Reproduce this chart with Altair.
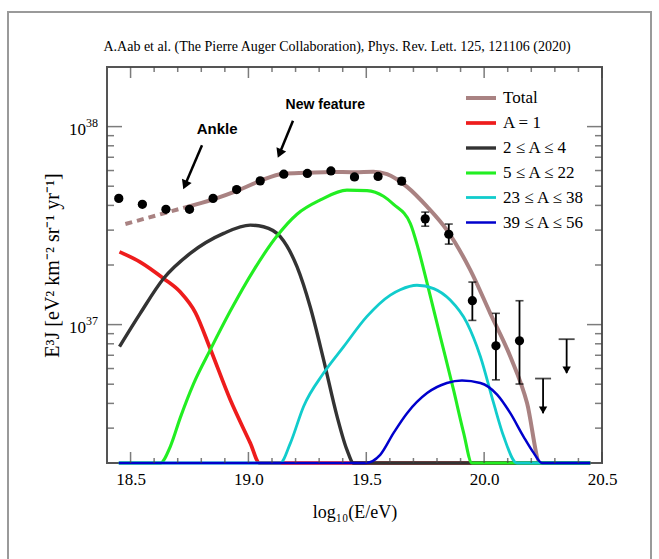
import altair as alt
import pandas as pd

# ---------------- data ----------------
X_DOMAIN = [18.4, 20.5]
Y_DOMAIN = [2e36, 2e38]

# measured flux points (E^3 J)
data_x = [18.45, 18.55, 18.65, 18.75, 18.85, 18.95, 19.05, 19.15, 19.25, 19.35,
          19.45, 19.55, 19.65, 19.75, 19.85, 19.95, 20.05, 20.15]
data_y = [4.34e37, 4.05e37, 3.82e37, 3.82e37, 4.34e37, 4.81e37, 5.32e37, 5.75e37, 5.80e37, 5.97e37,
          5.57e37, 5.60e37, 5.30e37, 3.42e37, 2.86e37, 1.32e37, 7.81e36, 8.28e36]
data_lo = [4.26e37, 3.98e37, 3.75e37, 3.75e37, 4.26e37, 4.72e37, 5.22e37, 5.64e37, 5.69e37, 5.85e37,
           5.45e37, 5.47e37, 5.12e37, 3.14e37, 2.55e37, 1.05e37, 5.26e36, 5.01e36]
data_hi = [4.42e37, 4.13e37, 3.89e37, 3.89e37, 4.42e37, 4.90e37, 5.42e37, 5.86e37, 5.91e37, 6.09e37,
           5.69e37, 5.73e37, 5.50e37, 3.70e37, 3.22e37, 1.64e37, 1.14e37, 1.32e37]

# upper limits
ul_x = [20.25, 20.35]
ul_y = [5.34e36, 8.44e36]
ul_tip = [3.57e36, 5.69e36]

# model curves
total_dash_x = [18.478, 18.732]
total_dash_y = [3.22e37, 3.91e37]
total_x = [18.732, 18.851, 18.951, 19.050, 19.148, 19.248, 19.347, 19.45, 19.53, 19.588,
           19.673, 19.758, 19.842, 19.941, 20.026, 20.111, 20.182, 20.238, 20.45]
total_y = [3.91e37, 4.29e37, 4.73e37, 5.32e37, 5.78e37, 5.84e37, 5.90e37, 5.88e37, 5.92e37, 5.75e37,
           4.96e37, 3.94e37, 3.00e37, 1.89e37, 1.14e37, 6.9e36, 4.02e36, 2.0e36, 2.0e36]

p_x = [18.453, 18.541, 18.64, 18.711, 18.775, 18.838, 18.923, 19.008, 19.047, 20.45]
p_y = [2.33e37, 2.07e37, 1.71e37, 1.46e37, 1.15e37, 7.55e36, 4.17e36, 2.52e36, 2.0e36, 2.0e36]

he_x = [18.453, 18.541, 18.64, 18.753, 18.895, 19.008, 19.064, 19.135, 19.206, 19.262, 19.319,
        19.376, 19.418, 19.446, 20.45]
he_y = [7.74e36, 1.14e37, 1.71e37, 2.29e37, 2.89e37, 3.18e37, 3.12e37, 2.78e37, 1.96e37, 1.23e37,
        6.64e36, 3.44e36, 2.33e36, 2.0e36, 2.0e36]

cno_x = [18.45, 18.626, 18.669, 18.711, 18.767, 18.838, 18.923, 19.022, 19.121, 19.206, 19.305,
         19.418, 19.503, 19.573, 19.616, 19.687, 19.722, 19.758, 19.814, 19.870, 19.913, 19.948, 20.45]
cno_y = [2e36, 2e36, 2.43e36, 3.39e36, 5.02e36, 7.45e36, 1.17e37, 1.88e37, 2.80e37, 3.61e37, 4.26e37,
         4.78e37, 4.75e37, 4.45e37, 4.05e37, 3.24e37, 2.38e37, 1.62e37, 8.7e36, 4.69e36, 2.84e36,
         2.0e36, 2.0e36]

si_x = [18.45, 19.135, 19.178, 19.234, 19.319, 19.404, 19.503, 19.602, 19.644, 19.715, 19.786,
        19.856, 19.927, 19.984, 20.040, 20.083, 20.139, 20.45]
si_y = [2e36, 2e36, 2.52e36, 3.86e36, 5.69e36, 7.74e36, 1.10e37, 1.41e37, 1.50e37, 1.58e37, 1.52e37,
        1.33e37, 1.02e37, 6.9e36, 4.02e36, 2.72e36, 2.0e36, 2.0e36]

fe_x = [18.45, 19.496, 19.559, 19.616, 19.673, 19.758, 19.842, 19.906, 19.984, 20.055, 20.111,
        20.167, 20.210, 20.245, 20.45]
fe_y = [2e36, 2e36, 2.20e36, 2.84e36, 3.57e36, 4.51e36, 5.07e36, 5.22e36, 5.07e36, 4.43e36, 3.57e36,
        2.72e36, 2.25e36, 2e36, 2e36]

series_names = ["Total", "A = 1", "2 ≤ A ≤ 4", "5 ≤ A ≤ 22", "23 ≤ A ≤ 38", "39 ≤ A ≤ 56"]
series_colors = ["#A98282", "#EE1C1C", "#333333", "#22EE22", "#11CCCC", "#0000CC"]
series_widths = [4, 2.5, 2.5, 2.5, 2.5, 2.5]

# axis ticks / labels
x_major = [18.5, 19.0, 19.5, 20.0, 20.5]
x_minor = [18.6, 18.7, 18.8, 18.9, 19.1, 19.2, 19.3, 19.4, 19.6, 19.7, 19.8, 19.9,
           20.1, 20.2, 20.3, 20.4]
y_major = [1e37, 1e38]
y_major_exp = ["37", "38"]
y_minor = [3e36, 4e36, 5e36, 6e36, 7e36, 8e36, 9e36,
           2e37, 3e37, 4e37, 5e37, 6e37, 7e37, 8e37, 9e37]

# annotations
ann_text = ["Ankle", "New feature"]
ann_x = [18.867, 19.326]
ann_y = [9.77e37, 1.29e38]
ann_size = [15, 14]
arrow_x0 = [18.803, 19.189]
arrow_y0 = [8.05e37, 1.07e38]
arrow_x1 = [18.731, 19.132]
arrow_y1 = [5.07e37, 7.31e37]

TITLE = "A.Aab et al. (The Pierre Auger Collaboration), Phys. Rev. Lett. 125, 121106 (2020)"

# ---------------- chart ----------------
W, H = 495, 396
SERIF = "Liberation Serif"

xs = alt.Scale(domain=X_DOMAIN, nice=False, zero=False)
ys = alt.Scale(type="log", domain=Y_DOMAIN, nice=False)

x_axis = alt.Axis(values=x_major, format=".1f", labelFlush=False, ticks=False, domain=False,
                  grid=False, labelFont=SERIF, labelFontSize=17, labelColor="black",
                  labelPadding=8, title="log₁₀(E/eV)", titleFont=SERIF, titleFontSize=18,
                  titleFontWeight="normal", titleColor="black", titlePadding=16)
y_axis = alt.Axis(labels=False, ticks=False, domain=False, grid=False,
                  title="E³J [eV² km⁻² sr⁻¹ yr⁻¹]", titleFont=SERIF, titleFontSize=20,
                  titleFontWeight="normal", titleColor="black", titlePadding=45)


def xe(f):
    return alt.X(f"{f}:Q", scale=xs, axis=x_axis)


def ye(f):
    return alt.Y(f"{f}:Q", scale=ys, axis=y_axis)


rows = []
for name, sx, sy in zip(series_names,
                        [total_x, p_x, he_x, cno_x, si_x, fe_x],
                        [total_y, p_y, he_y, cno_y, si_y, fe_y]):
    for a, b in zip(sx, sy):
        rows.append({"series": name, "x": a, "y": b})
curves = pd.DataFrame(rows)

dash_df = pd.DataFrame({"x": total_dash_x, "y": total_dash_y})
pts = pd.DataFrame({"x": data_x, "y": data_y, "lo": data_lo, "hi": data_hi})
ul = pd.DataFrame({"x": ul_x, "y": ul_y, "tip": ul_tip})
ann = pd.DataFrame({"x": ann_x, "y": ann_y, "t": ann_text, "s": ann_size})
arr = pd.DataFrame({"x0": arrow_x0, "y0": arrow_y0, "x1": arrow_x1, "y1": arrow_y1})
one = pd.DataFrame({"t": [TITLE]})

border = alt.Chart(one).mark_rect(
    fill=None, stroke="#9a9a9a", strokeWidth=2
).encode(x=alt.value(-99), x2=alt.value(544), y=alt.value(-55), y2=alt.value(560))

title_txt = alt.Chart(one).mark_text(
    font=SERIF, fontSize=14, color="black", align="center", baseline="middle"
).encode(x=alt.value(230), y=alt.value(-20), text="t:N")

dash_line = alt.Chart(dash_df).mark_line(
    color=series_colors[0], strokeWidth=4, strokeDash=[7, 5]
).encode(x=xe("x"), y=ye("y"))

lines = alt.Chart(curves).mark_line(interpolate="monotone").encode(
    x=xe("x"), y=ye("y"),
    color=alt.Color("series:N", scale=alt.Scale(domain=series_names, range=series_colors),
                    legend=alt.Legend(title=None, orient="none", legendX=357, legendY=14,
                                      symbolType="stroke", symbolSize=900,
                                      symbolStrokeWidth=3, labelFont=SERIF,
                                      labelFontSize=17, labelColor="black",
                                      rowPadding=-10, padding=0, labelOffset=5)),
    strokeWidth=alt.StrokeWidth("series:N",
                                scale=alt.Scale(domain=series_names, range=series_widths),
                                legend=None),
)

err = alt.Chart(pts).mark_rule(color="black", strokeWidth=1.8).encode(
    x=xe("x"), y=ye("lo"), y2="hi")
cap_lo = alt.Chart(pts).mark_tick(orient="horizontal", size=8, thickness=1.6, color="black").encode(
    x=xe("x"), y=ye("lo"))
cap_hi = alt.Chart(pts).mark_tick(orient="horizontal", size=8, thickness=1.6, color="black").encode(
    x=xe("x"), y=ye("hi"))
dots = alt.Chart(pts).mark_circle(size=85, color="black", opacity=1).encode(
    x=xe("x"), y=ye("y"))

ul_cap = alt.Chart(ul).mark_tick(orient="horizontal", size=16, thickness=1.8, color="black").encode(
    x=xe("x"), y=ye("y"))
ul_rule = alt.Chart(ul).mark_rule(color="black", strokeWidth=1.8).encode(
    x=xe("x"), y=ye("y"), y2="tip")
ul_head = alt.Chart(ul).mark_point(shape="triangle-down", filled=True, size=70, color="black",
                                   opacity=1, yOffset=-3).encode(x=xe("x"), y=ye("tip"))

ann_txt = alt.Chart(ann).mark_text(font="Liberation Sans", fontWeight="bold", color="black").encode(
    x=xe("x"), y=ye("y"), text="t:N", size=alt.Size("s:Q", scale=None, legend=None))
arr_rule = alt.Chart(arr).mark_rule(color="black", strokeWidth=2.5).encode(
    x=xe("x0"), y=ye("y0"), x2="x1", y2="y1")
arr_head = alt.Chart(arr).mark_point(shape="triangle-down", filled=True, size=110, angle=23,
                                     color="black", opacity=1).encode(x=xe("x1"), y=ye("y1"))

TICK_C = "#444444"


def xticks(vals, L, top):
    return alt.Chart(pd.DataFrame({"v": vals})).mark_tick(
        orient="vertical", size=L, thickness=1.5, color=TICK_C
    ).encode(x=xe("v"), y=alt.value(L / 2 if top else H - L / 2))


def yticks(vals, L, right):
    return alt.Chart(pd.DataFrame({"v": vals})).mark_tick(
        orient="horizontal", size=L, thickness=1.5, color=TICK_C
    ).encode(y=ye("v"), x=alt.value(W - L / 2 if right else L / 2))


lab_df = pd.DataFrame({"v": y_major, "b": ["10", "10"], "e": y_major_exp})
ylab_base = alt.Chart(lab_df).mark_text(align="right", baseline="middle", font=SERIF, fontSize=17,
                                        color="black", dy=3).encode(
    y=ye("v"), x=alt.value(-21), text="b:N")
ylab_exp = alt.Chart(lab_df).mark_text(align="left", baseline="middle", font=SERIF, fontSize=12,
                                       color="black", dy=-4).encode(
    y=ye("v"), x=alt.value(-21), text="e:N")

chart = alt.layer(
    border, title_txt, lines, dash_line, err, cap_lo, cap_hi, dots, ul_cap, ul_rule, ul_head,
    arr_rule, arr_head, ann_txt,
    xticks(x_major, 11, False), xticks(x_minor, 5, False),
    xticks(x_major, 11, True), xticks(x_minor, 5, True),
    yticks(y_major, 15, False), yticks(y_minor, 7, False),
    yticks(y_major, 15, True), yticks(y_minor, 7, True),
    ylab_base, ylab_exp,
).properties(
    width=W, height=H,
    autosize=alt.AutoSizeParams(type="none"),
    padding={"left": 107, "top": 67, "right": 57, "bottom": 96},
).configure_view(stroke="#555555", strokeWidth=2).configure_axis(grid=False)

chart.save("out.html", embed_options={"renderer": "svg", "actions": False})
